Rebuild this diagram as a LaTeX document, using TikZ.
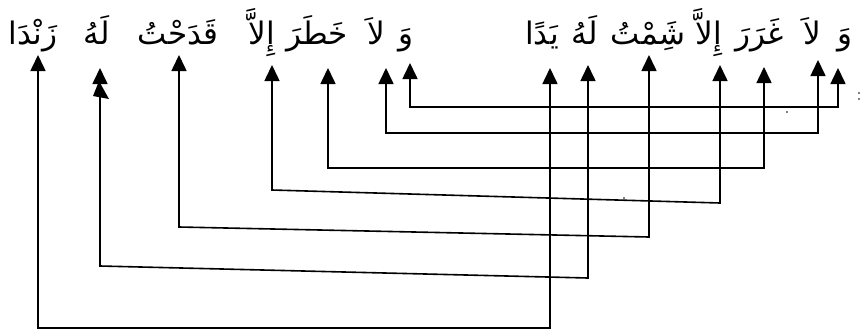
\documentclass[tikz,border=0pt]{standalone}
\usepackage{fontspec}
\newfontfamily\arabicfont[Script=Arabic]{DejaVu Sans}
\TeXXeTstate=1
\usetikzlibrary{arrows.meta,calc}

\begin{document}
\begin{tikzpicture}[x=1pt,y=-1pt,
  word/.style={font=\arabicfont\fontsize{31}{35}\selectfont, anchor=base, inner sep=0pt},
  link/.style={line width=1.6pt,
    {Triangle[width=15pt,length=16pt]}-{Triangle[width=15pt,length=16pt]}},
  speck/.style={fill=black}
]
\useasboundingbox (0,0) rectangle (864,330);

% first hemistich (right)
\node[word] (r1) at (845,44) {\beginR وَ\endR};
\node[word] (r2) at (812,44) {\beginR لاَ\endR};
\node[word] (r3) at (760,44) {\beginR غَرَرَ\endR};
\node[word] (r4) at (709,44) {\beginR إِلاَّ\endR};
\node[word] (r5) at (648,44) {\beginR شَِمْتُ\endR};
\node[word] (r6) at (585,44) {\beginR لَهُ\endR};
\node[word] (r7) at (542,44) {\beginR يَدًا\endR};

% second hemistich (left)
\node[word] (l1) at (406,44) {\beginR وَ\endR};
\node[word] (l2) at (376,44) {\beginR لاَ\endR};
\node[word] (l3) at (317,44) {\beginR خَطَرَ\endR};
\node[word] (l4) at (262,44) {\beginR إِلاَّ\endR};
\node[word] (l5) at (178,44) {\beginR قَدَحْتُ\endR};
\node[word] (l6) at (97,44) {\beginR لَهُ\endR};
\node[word] (l7) at (33,44) {\beginR زَنْدَا\endR};

% arrow tips below the words
\coordinate (r1t) at (838,68);
\coordinate (r2t) at (818,60);
\coordinate (r3t) at (764,67);
\coordinate (r4t) at (720,65);
\coordinate (r5t) at (649,55);
\coordinate (r6t) at (588,65);
\coordinate (r7t) at (550,68);

\coordinate (l1t) at (410,63);
\coordinate (l2t) at (386,68);
\coordinate (l3t) at (328,68);
\coordinate (l4t) at (272,65);
\coordinate (l5t) at (179,55);
\coordinate (l6t) at (100,68);
\coordinate (l7t) at (38,55);

% pairing connectors
\draw[link] (l1t) -- (l1t |- 0,107) -- (r1t |- 0,107) -- (r1t);
\draw[link] (l2t) -- (l2t |- 0,133) -- (r2t |- 0,133) -- (r2t);
\draw[link] (l3t) -- (l3t |- 0,168) -- (r3t |- 0,168) -- (r3t);
\draw[link] (l4t) -- (l4t |- 0,190) -- (r4t |- 0,203) -- (r4t);
\draw[link] (l5t) -- (l5t |- 0,227) -- (r5t |- 0,237) -- (r5t);
\draw[link] (l6t) -- (l6t |- 0,266) -- (r6t |- 0,278) -- (r6t);
\draw[link] (l7t) -- (l7t |- 0,328) -- (r7t |- 0,328) -- (r7t);

% second, skewed head on the third connector from the left
\fill ($(l6t)+(-1,13)$) -- ($(l6t)+(-7,28)$) -- ($(l6t)+(9,31)$) -- cycle;

% stray specks
\fill[speck] (787,112) circle (0.8);
\fill[speck] (624,198) circle (0.8);
\fill[speck] (859,93) circle (0.8);
\fill[speck] (859,99) circle (0.8);
\end{tikzpicture}
\end{document}
